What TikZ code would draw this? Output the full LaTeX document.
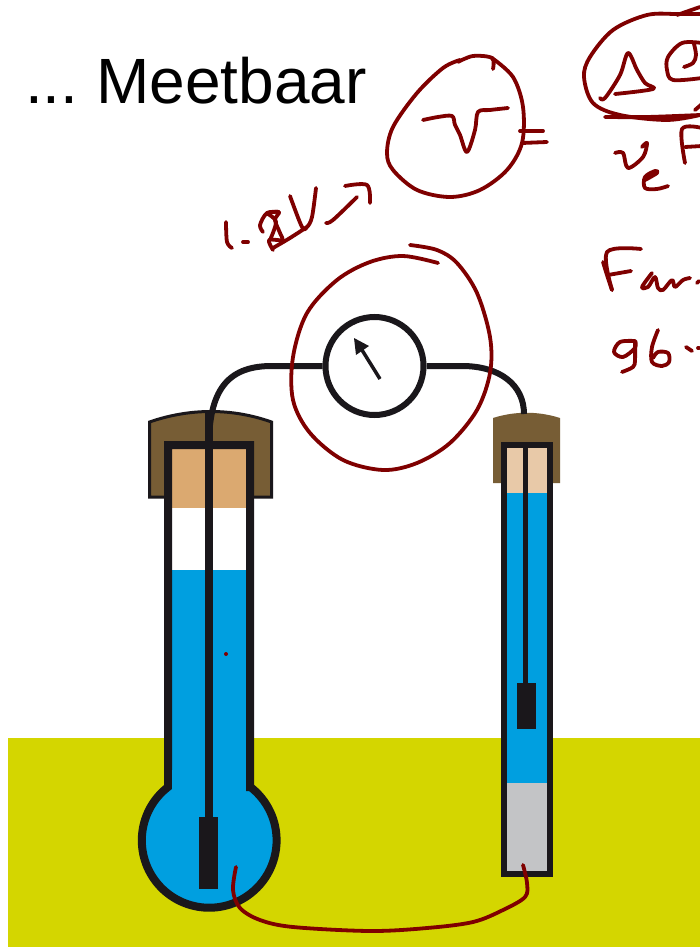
\documentclass[tikz,border=0pt]{standalone}
\usepackage{fontspec}
\setmainfont{Liberation Sans}
\definecolor{inkblack}{HTML}{1A171B}
\definecolor{cellblue}{HTML}{009FE0}
\definecolor{bench}{HTML}{D4D600}
\definecolor{capbrown}{HTML}{775D35}
\definecolor{tandark}{HTML}{DBA970}
\definecolor{tanlight}{HTML}{E8C9A8}
\definecolor{metalgrey}{HTML}{C3C4C6}
\definecolor{penred}{HTML}{7F0000}
\tikzset{
  hand/.style={draw=penred,line width=3.8pt,line cap=round,line join=round},
  wall/.style={draw=inkblack,line join=miter},
  wire/.style={draw=inkblack,line width=6pt},
  meterdial/.style={circle,draw=inkblack,line width=6pt,fill=white,minimum size=98pt,inner sep=0pt},
  title/.style={font=\fontsize{64}{64}\selectfont,anchor=base west,inner sep=0pt,text=black}
}
\newcommand{\ink}[1]{\draw[hand] plot[smooth,tension=.55] coordinates {#1};}
\begin{document}
\begin{tikzpicture}[x=1pt,y=-1pt]
\useasboundingbox (0,0) rectangle (700,947);
\clip (0,0) rectangle (700,947);
\fill[white] (0,0) rectangle (700,947);
\fill[bench] (8,738) rectangle (700,947);
\node[title] (heading) at (25,103) {\frenchspacing ... Meetbaar};

% left tube
\draw[draw=inkblack,line width=3pt,fill=capbrown] (149.5,497) -- (149.5,422) .. controls (190,408) and (232,408) .. (271.5,422) -- (271.5,497) -- cycle;
\fill[tandark] (168,445) rectangle (250,508);
\fill[white] (168,508) rectangle (250,570);
\fill[cellblue] (168,570) rectangle (250,800);
\fill[cellblue] (209.5,840) circle[radius=67];
\draw[wall,line width=8pt] (250,787) -- (250,445) -- (168,445) -- (168,787) arc[start angle=232.3,end angle=-52.3,radius=67.4] -- cycle;
\fill[cellblue] (172,770) rectangle (246,800);
\fill[inkblack] (205,412) rectangle (213,820);
\fill[inkblack] (199,817) rectangle (218,889);

% right tube
\fill[capbrown] (493,483) -- (493,418) .. controls (515,411) and (538,411) .. (560,418) -- (560,483) -- cycle;
\fill[tanlight] (504,445) rectangle (550,493);
\fill[cellblue] (504,493) rectangle (550,783);
\fill[metalgrey] (504,783) rectangle (550,874);
\draw[wall,line width=6pt] (503.5,444.7) rectangle (550,874);
\fill[inkblack] (523,445) rectangle (528,690);
\fill[inkblack] (517,683) rectangle (536,729);

% meter and its wires
\coordinate (leftlead) at (209,445);
\coordinate (rightlead) at (524,414);
\node[meterdial] (meter) at (374.5,366) {};
\draw[wire] (meter.west) -- (272,366) .. controls (232,366) and (209,385) .. (leftlead);
\draw[wire] (meter.east) -- (462,366) .. controls (500,366) and (524,385) .. (rightlead);
\coordinate (needlefoot) at (380,379);
\draw[inkblack,line width=3.5pt] (needlefoot) -- (362,350);
\fill[inkblack] (354,338) -- (369,346) -- (356,355) -- cycle;

% pen: circle round V
\ink{(458,62)(473,56)(492,58)(493,69)}
\ink{(492,58)(513,77)(523,107)(522,143)(507,170)(480,190)(450,197)(417,190)(393,170)(387,153)(393,127)(417,93)(443,68)(460,60)}
\ink{(423,120)(438,117)(452,116)(455,125)(460,135)(467,152)(475,130)(478,112)(490,110)(508,108)}
\draw[hand] (520,131) -- (543,131);
\draw[hand] (522,143) -- (547,142);

% pen: delta G over nu F
\ink{(700,14)(677,14)(647,15)(613,30)(590,57)(584,77)(593,103)(620,115)(667,120)(700,115)}
\draw[hand] (677,15) -- (700,7);
\ink{(605,117)(647,117)(700,115)}
\ink{(600,98)(605,98)(620,75)(628,53)(637,70)(645,83)(653,89)(615,94)}
\ink{(702,43)(682,43)(668,57)(667,70)(673,80)(702,78)}
\ink{(694,44)(696,55)(693,63)(684,67)}
\ink{(695,110)(702,104)}
\ink{(615,153)(623,153)(628,168)(643,157)(647,143)(642,147)}
\ink{(645,180)(657,173)(655,171)(645,177)(645,188)(657,189)(668,186)}
\ink{(702,128)(682,129)(685,163)}
\draw[hand] (685,147) -- (702,146);

% pen: 1.2V arrow
\ink{(226,222)(227,242)(232,248)}
\draw[hand] (243,242) -- (248,242);
\ink{(279,212)(267,213)(260,225)(263,232)}
\ink{(267,213)(279,212)(275,220)(280,233)(282,240)(269,240)(273,250)}
\ink{(270,240)(276,222)(268,214)}
\ink{(290,196)(302,227)(307,227)(312,217)(316,188)}
\ink{(307,227)(290,238)(273,248)}
\ink{(326,223)(333,220)(357,197)}
\ink{(345,186)(367,185)(370,203)}

% pen: Far... and 96...
\ink{(641,249)(607,252)(612,290)}
\ink{(603,262)(607,275)(612,290)}
\draw[hand] (608,275) -- (631,271);
\ink{(652,273)(642,287)(648,287)(655,277)(658,288)(663,290)(672,280)(675,287)(683,280)(690,278)}
\draw[hand] (697,283) -- (699,281);
\ink{(635,341)(620,342)(614,352)(623,357)(635,348)(635,341)(635,360)(633,367)(622,372)}
\ink{(658,330)(652,347)(652,362)(662,366)(669,362)(668,353)(658,352)(653,358)}
\draw[hand] (686,347) -- (692,351);
\draw[hand] (698,348) -- (699,348);

% pen: loop round the meter
\ink{(438,263)(403,256)(370,262)(337,280)(307,313)(293,357)(293,400)(310,433)(343,460)(383,470)(417,463)(450,443)(477,410)(490,373)(490,337)(477,293)(457,263)(437,250)(410,245)}

% pen: salt bridge
\ink{(236,867)(233,890)(240,908)(260,920)(293,927)(370,931)(427,928)(473,922)(503,910)(525,897)(527,883)(523,865)}
\fill[penred] (226,654) circle[radius=2];
\end{tikzpicture}
\end{document}
